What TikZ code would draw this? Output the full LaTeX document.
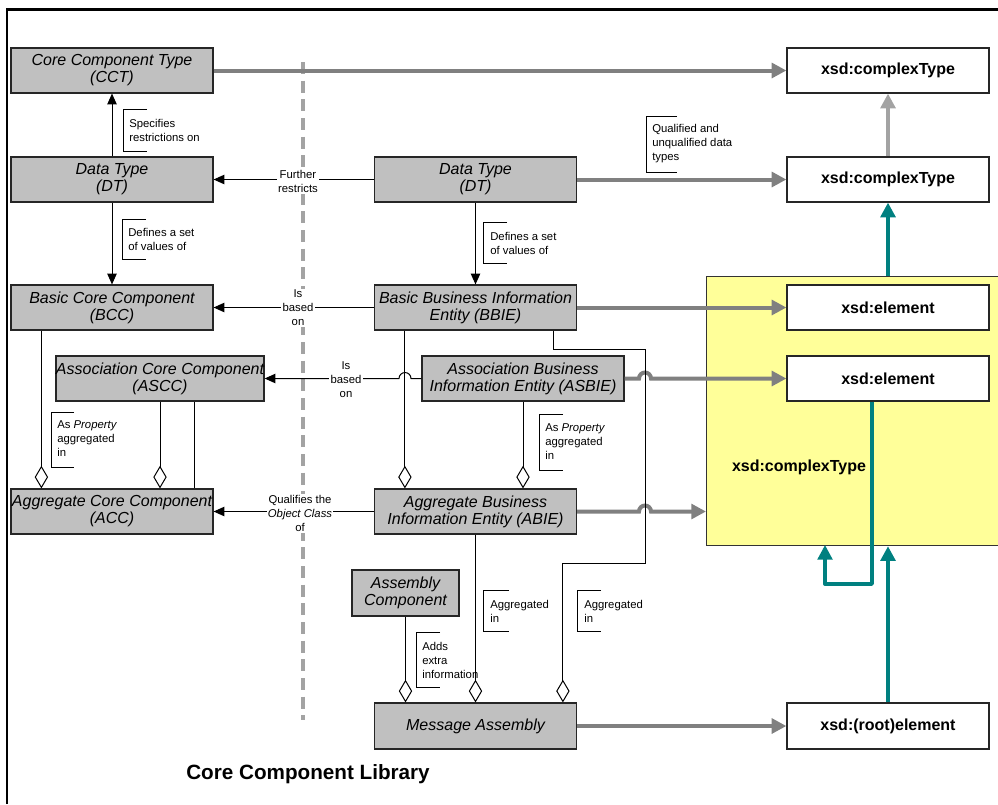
\documentclass[tikz,border=0pt]{standalone}
\usepackage{fontspec}
\setmainfont{Liberation Sans}
\usetikzlibrary{arrows.meta,calc}
\definecolor{boxgray}{HTML}{C0C0C0}
\definecolor{arrgray}{HTML}{808080}
\definecolor{lgray}{HTML}{A3A3A3}
\definecolor{tealc}{HTML}{008080}
\definecolor{yel}{HTML}{FFFF99}
\newcommand\brk[4]{\draw[draw=black, line width=0.6pt] (#4,#2) -- (#1,#2) -- (#1,#3) -- (#4,#3);}
\begin{document}
\begin{tikzpicture}[x=0.75pt,y=-0.75pt,
  cbox/.style={draw=black!85, line width=0.9pt, fill=boxgray, minimum width=151.5pt, minimum height=33.75pt, align=center, font=\fontsize{12}{12.75}\selectfont\itshape, inner sep=0pt},
  xbox/.style={draw=black!85, line width=0.9pt, fill=white, minimum width=151.5pt, minimum height=33.75pt, font=\fontsize{12}{14}\selectfont\bfseries, inner sep=0pt},
  lbl/.style={font=\fontsize{8.5}{10.5}\selectfont, align=left, anchor=west, inner sep=0pt},
  mlbl/.style={font=\fontsize{8.5}{10.5}\selectfont, align=center, fill=white, inner sep=1pt},
  blk/.style={draw=black, line width=0.75pt},
  barr/.style={blk, -{Triangle[length=8pt,width=7pt]}},
  agg/.style={blk, -{Diamond[length=17pt,width=10pt,fill=white]}},
  garr/.style={draw=arrgray, line width=3pt, -{Triangle[length=11pt,width=11pt]}},
  tarr/.style={draw=tealc, line width=3pt, -{Triangle[length=11pt,width=11pt]}}
]
\useasboundingbox (0,0) rectangle (998,804);
\clip (0,0) rectangle (998,804);

% frame
\draw[line width=1.5pt] (7,804) -- (7,9.5);
\draw[line width=2.25pt] (6.25,9.5) -- (998,9.5);

% separator
\draw[draw=lgray, line width=3pt, dash pattern=on 9pt off 5pt] (303,62) -- (303,720);

% yellow container
\node[draw=black!80, line width=0.9pt, fill=yel, anchor=north west, minimum width=228pt, minimum height=201.75pt, inner sep=0pt] (ybox) at (706,276) {};
\node[font=\fontsize{12}{14}\selectfont\bfseries] (ylab) at (799,467) {xsd:complexType};

% left column
\node[cbox] (CCT) at (112,70.5) {Core Component Type\\(CCT)};
\node[cbox] (DTL) at (112,179.5) {Data Type\\(DT)};
\node[cbox] (BCC) at (112,307.5) {Basic Core Component\\(BCC)};
\node[cbox] (ASCC) at (160,378.5) {Association Core Component\\(ASCC)};
\node[cbox] (ACC) at (112,511.5) {Aggregate Core Component\\(ACC)};

% middle column
\node[cbox] (DTM) at (475.5,179.5) {Data Type\\(DT)};
\node[cbox] (BBIE) at (475.5,307.5) {Basic Business Information\\Entity (BBIE)};
\node[cbox] (ASBIE) at (523,378.5) {Association Business\\Information Entity (ASBIE)};
\node[cbox] (ABIE) at (475.5,511.5) {Aggregate Business\\Information Entity (ABIE)};
\node[cbox, minimum width=80.25pt, minimum height=34.5pt] (AsmC) at (405.5,593) {Assembly\\Component};
\node[cbox, minimum height=34.5pt] (MA) at (475.5,726) {Message Assembly};

% right column
\node[xbox] (xct1) at (888,70.5) {xsd:complexType};
\node[xbox] (xct2) at (888,179.5) {xsd:complexType};
\node[xbox] (xel1) at (888,307.5) {xsd:element};
\node[xbox] (xel2) at (888,378.5) {xsd:element};
\node[xbox, minimum height=34.5pt] (root) at (888,726) {xsd:(root)element};

% gray mapping arrows
\draw[garr] (CCT.east) -- (xct1.west);
\draw[garr] (DTM.east) -- (xct2.west);
\draw[garr, draw=lgray] (xct2.north) -- (xct1.south);
\draw[garr] (BBIE.east) -- (xel1.west);
\draw[garr] (ASBIE.east) -- (639,378.5) arc[start angle=180,end angle=0,radius=4.5pt] -- (xel2.west);
\draw[garr] (ABIE.east) -- (639,511.5) arc[start angle=180,end angle=0,radius=4.5pt] -- (ABIE.east -| ybox.west);
\draw[garr] (MA.east) -- (root.west);

% teal arrows
\draw[tarr] (xct2.south |- ybox.north) -- (xct2.south);
\draw[tarr] (root.north) -- (root.north |- ybox.south);
\coordinate (tl) at ($(xel2.south)+(-16,0)$);
\coordinate (tr) at (825,545);
\draw[tarr, line width=2.5pt, line join=round] (tl) -- (tl |- 0,584) -- (tr |- 0,584) -- (tr);

% black arrows
\draw[barr] (DTL.north) -- (CCT.south);
\draw[barr] (DTL.south) -- (BCC.north);
\draw[barr] (DTM.south) -- (BBIE.north);
\draw[barr] (DTM.west) -- (DTL.east);
\draw[barr] (BBIE.west) -- (BCC.east);
\draw[barr] (ASBIE.west) -- (411,378.5) arc[start angle=0,end angle=180,radius=4.5pt] -- (ASCC.east);
\draw[barr] (ABIE.west) -- (ACC.east);

% aggregations
\coordinate (bcx) at ($(BCC.south west)+(31,0)$);
\draw[agg] (bcx) -- (bcx |- ACC.north);
\draw[agg] (ASCC.south) -- (ASCC.south |- ACC.north);
\coordinate (asx) at ($(ASCC.south)+(34,0)$);
\draw[blk] (asx) -- (asx |- ACC.north);
\coordinate (bbx) at ($(BBIE.south west)+(31,0)$);
\draw[agg] (bbx) -- (bbx |- ABIE.north);
\draw[agg] (ASBIE.south) -- (ASBIE.south |- ABIE.north);
\draw[agg] (ABIE.south) -- (ABIE.south |- MA.north);
\draw[agg] (AsmC.south) -- (AsmC.south |- MA.north);
\coordinate (bbr) at ($(BBIE.south west)+(180,0)$);
\coordinate (mat) at ($(MA.north west)+(189,0)$);
\draw[agg] (bbr) |- (645,349) -- (645,563) -| (mat);

% labels on arrows
\node[mlbl] (lfr) at (298,181) {Further\\restricts};
\node[mlbl] (lib1) at (298,308) {Is\\based\\on};
\node[mlbl] (lib2) at (346,380) {Is\\based\\on};
\node[mlbl] (lqo) at (300,513) {Qualifies the\\\textit{Object Class}\\of};

% bracket notes
\brk{123}{109}{151}{147}
\node[lbl] (n1) at (129,130) {Specifies\\restrictions on};
\brk{122}{219}{259}{146}
\node[lbl] (n2) at (128,239) {Defines a set\\of values of};
\brk{483}{222}{263}{507}
\node[lbl] (n3) at (490,243) {Defines a set\\of values of};
\brk{646}{116}{172}{677}
\node[lbl] (n4) at (652,144) {Qualified and\\unqualified data\\types};
\brk{51}{412}{467}{74}
\node[lbl] (n5) at (57,439) {As \textit{Property}\\aggregated\\in};
\brk{539}{414}{470}{563}
\node[lbl] (n6) at (545,442) {As \textit{Property}\\aggregated\\in};
\brk{416}{632}{687}{440}
\node[lbl] (n7) at (422,660) {Adds\\extra\\information};
\brk{483}{590}{631}{509}
\node[lbl] (n8) at (490,611) {Aggregated\\in};
\brk{577}{590}{631}{601}
\node[lbl] (n9) at (584,611) {Aggregated\\in};

% title
\node[font=\fontsize{15.5}{18}\selectfont\bfseries] (title) at (308,774) {Core Component Library};
\end{tikzpicture}
\end{document}
